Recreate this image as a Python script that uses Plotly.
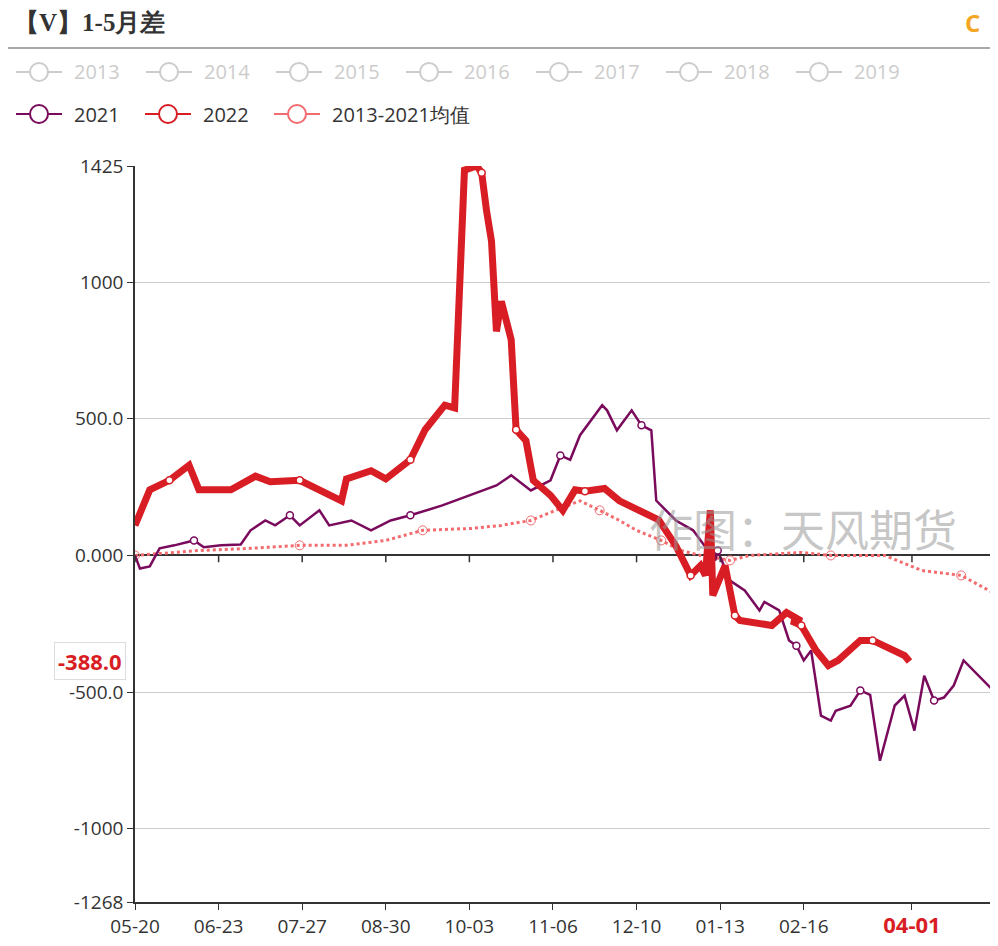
import plotly.graph_objects as go

# ---- data (day offset from 05-20, value) ----
d22 = [0,6,14,22,26,39,49,55,67,75,84,86,96,102,112,118,126,130,134,139,141,143,145,147,149,153,155,159,162,169,174,179,183,191,197,205,213,220,226,230,232,234,235,240,244,246,259,265,271,267,271,277,282,286,290,295,300,305,313,315]
v22 = [110,240,275,330,240,240,290,270,275,240,200,280,310,280,350,460,550,540,1410,1425,1400,1260,1150,820,930,790,460,420,275,220,165,240,235,245,200,165,130,35,-73,-37,-73,165,-146,-37,-220,-238,-256,-209,-240,-240,-256,-348,-403,-384,-350,-311,-311,-330,-366,-388]
d21 = [0,2,6,10,16,24,28,35,43,47,53,57,63,67,75,79,88,96,104,112,125,141,147,153,161,169,173,177,181,190,192,196,202,206,210,212,216,220,227,236,237,242,248,254,256,262,266,269,272,275,279,283,285,291,295,299,303,309,313,317,321,325,329,333,337,341,349,351]
v21 = [0,-48,-40,26,37,55,30,37,40,92,128,110,147,110,165,110,128,92,128,147,183,238,256,293,238,275,366,350,440,550,531,458,531,476,458,201,165,128,92,-18,18,-92,-128,-201,-170,-201,-311,-330,-384,-348,-586,-604,-568,-550,-494,-510,-751,-549,-513,-641,-440,-531,-520,-476,-384,-421,-494,-531]
dav = [0,26,47,67,86,102,117,137,149,161,171,181,189,197,204,214,222,230,242,250,271,283,305,320,336,351]
vav = [0,18,26,37,37,55,92,99,110,128,165,200,165,128,92,55,18,0,-18,0,11,0,0,-55,-73,-146]
xticks = [0,34,68,102,136,170,204,238,272,316]
xlabels = ["05-20","06-23","07-27","08-30","10-03","11-06","12-10","01-13","02-16","04-01"]
yticks = [1425,1000,500,0,-500,-1000,-1268]
ylabels = ["1425","1000","500.0","0.000","-500.0","-1000","-1268"]
hidden_years = ["2013","2014","2015","2016","2017","2018","2019","2020"]

C21, C22, CAV = "#7a0a5c", "#d81e24", "#f26b6f"
OFF = 8  # page body offset
FW, FH = 990, 938
L, T, B = 135, 166, 902   # desired page pixel positions
W = 998 - L
H = B - T
def px(x): return (x - L) / W
def py(y): return (B - y) / H

fig = go.Figure()
fig.add_trace(go.Scatter(x=dav, y=vav, mode="lines+markers", line=dict(color=CAV, width=3, dash="dot"),
    marker=dict(symbol="circle-open", size=9, color=CAV, maxdisplayed=11), showlegend=False))
fig.add_trace(go.Scatter(x=d21, y=v21, mode="lines+markers", line=dict(color=C21, width=2.5),
    marker=dict(size=7, color="white", line=dict(color=C21, width=1.5), maxdisplayed=11), showlegend=False))
fig.add_trace(go.Scatter(x=d22, y=v22, mode="lines+markers", line=dict(color=C22, width=7),
    marker=dict(size=7, color="white", line=dict(color=C22, width=1.5), maxdisplayed=10), showlegend=False))

ticktext = xlabels[:-1] + ["<b><span style='color:#d81e24;font-size:22px'>" + xlabels[-1] + "</span></b>"]
fig.update_layout(
    width=FW, height=FH, margin=dict(l=L - OFF, r=0, t=T - OFF, b=FH + OFF - B),
    paper_bgcolor="white", plot_bgcolor="white",
    font=dict(family="Open Sans", size=19, color="#333"),
    xaxis=dict(range=[0, 351], tickvals=xticks, ticktext=ticktext, showgrid=False, zeroline=False,
               showline=True, linecolor="#333", linewidth=1.5, ticks="outside", ticklen=6, tickcolor="#333"),
    yaxis=dict(range=[-1268, 1425], tickvals=yticks, ticktext=ylabels, showgrid=True, gridcolor="#cccccc",
               zeroline=True, zerolinecolor="#333", zerolinewidth=1.5, showline=True, linecolor="#333",
               linewidth=1.5, ticks="outside", ticklen=6, tickcolor="#333"),
)
for t in xticks:
    fig.add_shape(type="line", x0=t, x1=t, y0=0, y1=-25, xref="x", yref="y", line=dict(color="#333", width=1.5))

fig.add_annotation(x=px(12), y=py(22), xref="paper", yref="paper", yanchor="middle", xanchor="left", showarrow=False,
    text="<b>【V】1-5月差</b>", font=dict(family="Liberation Serif", size=25, color="#333"))
fig.add_annotation(x=px(982), y=py(22), xref="paper", yref="paper", xanchor="right", yanchor="middle", showarrow=False,
    text="<b>C</b>", font=dict(size=24, color="#f5a623"))
fig.add_shape(type="line", x0=px(0), x1=px(998), y0=py(48), y1=py(48), xref="paper", yref="paper",
              line=dict(color="#aaa", width=2))

def leg(x, ypx, label, color, textcolor):
    yp = py(ypx)
    fig.add_shape(type="line", x0=px(x), x1=px(x + 46), y0=yp, y1=yp, xref="paper", yref="paper", line=dict(color=color, width=2))
    fig.add_shape(type="circle", x0=px(x + 14), x1=px(x + 32), y0=py(ypx + 9), y1=py(ypx - 9), xref="paper", yref="paper",
                  line=dict(color=color, width=2), fillcolor="white")
    fig.add_annotation(x=px(x + 56), y=yp, xref="paper", yref="paper", xanchor="left", yanchor="middle", showarrow=False,
                       text=label, font=dict(size=20, color=textcolor))

for i, yr in enumerate(hidden_years[:-1]):
    leg(16 + i * 130, 72, yr, "#cccccc", "#cccccc")
leg(16, 114, "2021", C21, "#333")
leg(145, 114, "2022", C22, "#333")
leg(274, 114, "2013-2021均值", CAV, "#333")

fig.add_annotation(x=px(803), y=py(528), xref="paper", yref="paper", xanchor="center", yanchor="middle",
    showarrow=False, text="作图：天风期货",
    font=dict(family="Noto Sans CJK SC", size=44, color="rgba(150,150,150,0.55)"))
fig.add_annotation(x=px(126), y=v22[-1], xref="paper", yref="y", xanchor="right", showarrow=False,
    text="<b>-388.0</b>", font=dict(size=22, color=C22), bgcolor="white", bordercolor="#ddd", borderwidth=1, borderpad=3)

fig.write_html("out.html")
